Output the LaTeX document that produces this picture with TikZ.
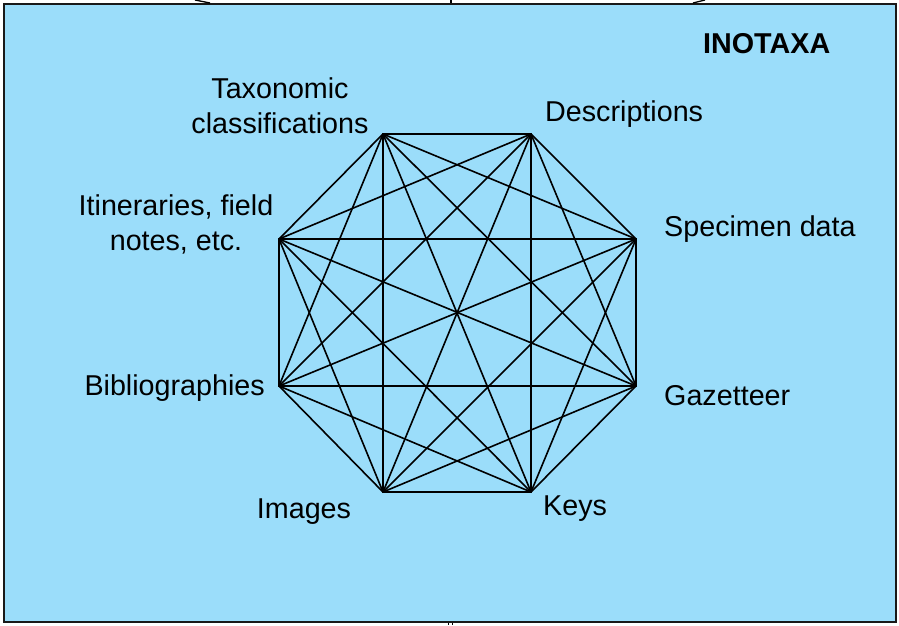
\documentclass[tikz,border=0pt]{standalone}
\usepackage{fontspec}
\setmainfont{Liberation Sans}
\definecolor{bgblue}{RGB}{155,221,250}
\definecolor{frame}{RGB}{25,25,25}
\begin{document}
\begin{tikzpicture}[x=1pt,y=-1pt,
  lbl/.style={inner sep=0pt,font=\fontsize{28.7}{35}\selectfont,text=black},
  edge/.style={line width=1.6pt,black},
  vtx/.style={coordinate}]
\useasboundingbox (0,0) rectangle (899,625);
% frame
\draw[line width=2pt,draw=frame,fill=bgblue] (3.5,4) rectangle (896,621.5);
% pieces above and below the frame
\draw[line width=1.3pt] (195,0) .. controls (203,1) .. (210,3);
\draw[line width=1.3pt] (451,0) -- (451,3);
\draw[line width=1.3pt] (693,3) .. controls (699,1) .. (705,0);
\draw[line width=1pt] (448,622.5) -- (448,625);
\draw[line width=1pt] (452,622.5) -- (452,625);
% vertices
\coordinate (tc) at (383,134);
\coordinate (de) at (531,134);
\coordinate (sd) at (636,239);
\coordinate (ga) at (636,386);
\coordinate (ke) at (531,492);
\coordinate (im) at (383,492);
\coordinate (bi) at (279,386);
\coordinate (it) at (279,239);
% complete graph
\foreach \a/\b in {tc/de,tc/sd,tc/ga,tc/ke,tc/im,tc/bi,tc/it,
                   de/sd,de/ga,de/ke,de/im,de/bi,de/it,
                   sd/ga,sd/ke,sd/im,sd/bi,sd/it,
                   ga/ke,ga/im,ga/bi,ga/it,
                   ke/im,ke/bi,ke/it,
                   im/bi,im/it,
                   bi/it}
  \draw[edge,line cap=round,line join=round] (\a) -- (\b);
% labels
\node[lbl,anchor=base,align=center] (ltc) at (280,133) {Taxonomic\\classifications};
\node[lbl,anchor=base west] (lde) at (545,121) {Descriptions};
\node[lbl,anchor=base,align=center] (lit) at (176,250) {Itineraries, field\\notes, etc.};
\node[lbl,anchor=base west] (lsd) at (664,236) {Specimen data};
\node[lbl,anchor=base east] (lbi) at (265,395) {Bibliographies};
\node[lbl,anchor=base west] (lga) at (664,405) {Gazetteer};
\node[lbl,anchor=base] (lim) at (304,518) {Images};
\node[lbl,anchor=base west] (lke) at (543,515) {Keys};
\node[lbl,anchor=base west,font=\fontsize{28.7}{35}\selectfont\bfseries] (ttl) at (703,53) {INOTAXA};
\end{tikzpicture}
\end{document}
